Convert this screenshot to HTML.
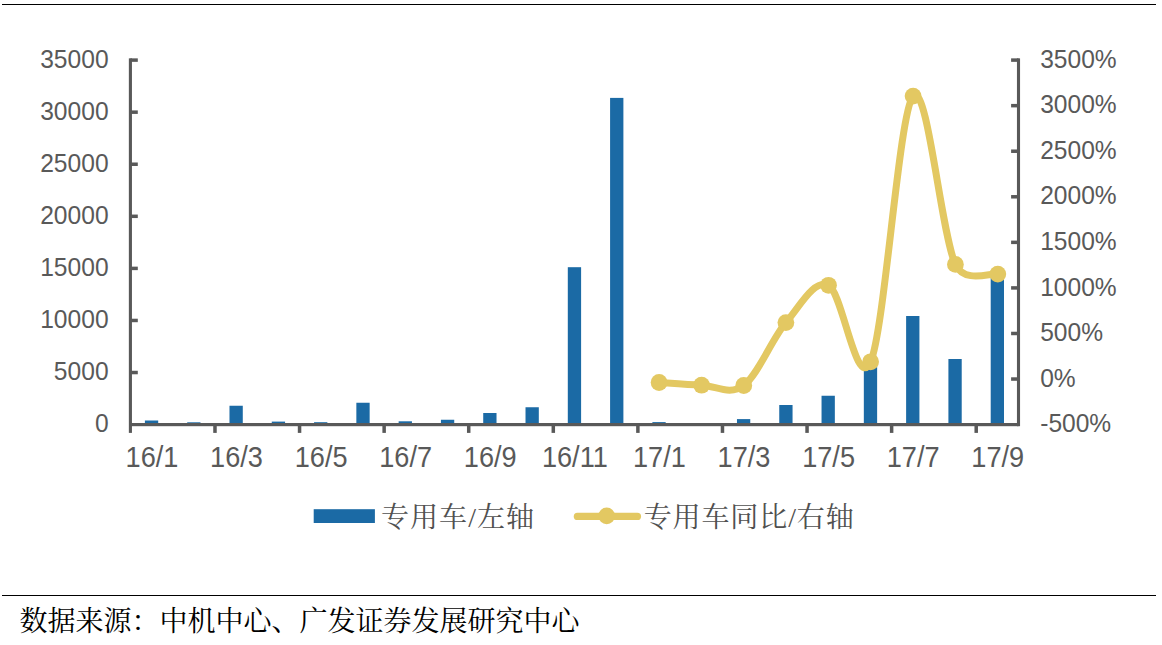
<!DOCTYPE html>
<html lang="zh"><head><meta charset="utf-8"><title>chart</title>
<style>html,body{margin:0;padding:0;background:#fff;overflow:hidden}svg{display:block}body{font-family:"Liberation Sans",sans-serif}</style></head>
<body>
<svg width="1162" height="645" viewBox="0 0 1162 645" role="img" aria-label="专用车/左轴 专用车同比/右轴 数据来源：中机中心、广发证券发展研究中心">
<rect width="1162" height="645" fill="#fff"/>
<rect x="2" y="4" width="1154" height="1" fill="#000"/>
<rect x="2" y="595" width="1154" height="1" fill="#000"/>
<g fill="#1B6AA5">
<rect x="144.90" y="420.50" width="13.3" height="4.10"/>
<rect x="187.19" y="422.30" width="13.3" height="2.30"/>
<rect x="229.48" y="405.75" width="13.3" height="18.85"/>
<rect x="271.77" y="421.60" width="13.3" height="3.00"/>
<rect x="314.06" y="422.20" width="13.3" height="2.40"/>
<rect x="356.35" y="402.75" width="13.3" height="21.85"/>
<rect x="398.64" y="421.30" width="13.3" height="3.30"/>
<rect x="440.93" y="419.75" width="13.3" height="4.85"/>
<rect x="483.22" y="413.00" width="13.3" height="11.60"/>
<rect x="525.51" y="407.25" width="13.3" height="17.35"/>
<rect x="567.80" y="267.20" width="13.3" height="157.40"/>
<rect x="610.09" y="97.90" width="13.3" height="326.70"/>
<rect x="652.38" y="422.10" width="13.3" height="2.50"/>
<rect x="736.96" y="419.10" width="13.3" height="5.50"/>
<rect x="779.25" y="405.00" width="13.3" height="19.60"/>
<rect x="821.54" y="395.75" width="13.3" height="28.85"/>
<rect x="863.83" y="362.00" width="13.3" height="62.60"/>
<rect x="906.12" y="316.00" width="13.3" height="108.60"/>
<rect x="948.41" y="359.00" width="13.3" height="65.60"/>
<rect x="990.70" y="276.00" width="13.3" height="148.60"/>
</g>
<g fill="#595959">
<rect x="128.85" y="58.35" width="3.1" height="374.55"/>
<rect x="1016.95" y="58.35" width="3.1" height="367.85"/>
<rect x="130.40" y="423.00" width="888.10" height="3.2"/>
<rect x="130.40" y="58.35" width="7.4" height="3.5"/>
<rect x="130.40" y="110.42" width="7.4" height="3.5"/>
<rect x="130.40" y="162.49" width="7.4" height="3.5"/>
<rect x="130.40" y="214.56" width="7.4" height="3.5"/>
<rect x="130.40" y="266.64" width="7.4" height="3.5"/>
<rect x="130.40" y="318.71" width="7.4" height="3.5"/>
<rect x="130.40" y="370.78" width="7.4" height="3.5"/>
<rect x="1011.10" y="58.35" width="7.4" height="3.5"/>
<rect x="1011.10" y="103.91" width="7.4" height="3.5"/>
<rect x="1011.10" y="149.47" width="7.4" height="3.5"/>
<rect x="1011.10" y="195.04" width="7.4" height="3.5"/>
<rect x="1011.10" y="240.60" width="7.4" height="3.5"/>
<rect x="1011.10" y="286.16" width="7.4" height="3.5"/>
<rect x="1011.10" y="331.73" width="7.4" height="3.5"/>
<rect x="1011.10" y="377.29" width="7.4" height="3.5"/>
<rect x="213.23" y="424.60" width="3.5" height="8.3"/>
<rect x="297.81" y="424.60" width="3.5" height="8.3"/>
<rect x="382.39" y="424.60" width="3.5" height="8.3"/>
<rect x="466.97" y="424.60" width="3.5" height="8.3"/>
<rect x="551.55" y="424.60" width="3.5" height="8.3"/>
<rect x="636.14" y="424.60" width="3.5" height="8.3"/>
<rect x="720.72" y="424.60" width="3.5" height="8.3"/>
<rect x="805.30" y="424.60" width="3.5" height="8.3"/>
<rect x="889.88" y="424.60" width="3.5" height="8.3"/>
<rect x="974.46" y="424.60" width="3.5" height="8.3"/>
</g>
<path d="M659.10,382.50 C666.18,382.95 687.49,384.70 701.60,385.20 C715.71,385.70 729.70,395.93 743.75,385.50 C757.80,375.07 771.77,339.30 785.90,322.60 C800.02,305.90 814.38,278.77 828.50,285.30 C842.62,291.83 856.50,393.33 870.60,361.80 C884.70,330.27 898.97,112.33 913.10,96.10 C927.23,79.87 941.28,234.73 955.40,264.40 C964.74,284.04 990.73,272.48 997.80,274.10" fill="none" stroke="#E3C862" stroke-width="7" stroke-linecap="round" stroke-linejoin="round"/>
<g fill="#E3C862">
<circle cx="659.10" cy="382.50" r="8.4"/>
<circle cx="701.60" cy="385.20" r="8.4"/>
<circle cx="743.75" cy="385.50" r="8.4"/>
<circle cx="785.90" cy="322.60" r="8.4"/>
<circle cx="828.50" cy="285.30" r="8.4"/>
<circle cx="870.60" cy="361.80" r="8.4"/>
<circle cx="913.10" cy="96.10" r="8.4"/>
<circle cx="955.40" cy="264.40" r="8.4"/>
<circle cx="997.80" cy="274.10" r="8.4"/>
</g>
<g font-family="'Liberation Sans', sans-serif" fill="#595959">
<g font-size="24" text-anchor="end">
<text transform="translate(108.6,67.70) scale(1.026,1.062)">35000</text>
<text transform="translate(108.6,119.77) scale(1.026,1.062)">30000</text>
<text transform="translate(108.6,171.84) scale(1.026,1.062)">25000</text>
<text transform="translate(108.6,223.91) scale(1.026,1.062)">20000</text>
<text transform="translate(108.6,275.99) scale(1.026,1.062)">15000</text>
<text transform="translate(108.6,328.06) scale(1.026,1.062)">10000</text>
<text transform="translate(108.6,380.13) scale(1.026,1.062)">5000</text>
<text transform="translate(108.6,432.20) scale(1.026,1.062)">0</text>
</g>
<g font-size="24" text-anchor="start">
<text transform="translate(1040.2,67.70) scale(1.024,1.062)">3500%</text>
<text transform="translate(1040.2,113.26) scale(1.024,1.062)">3000%</text>
<text transform="translate(1040.2,158.82) scale(1.024,1.062)">2500%</text>
<text transform="translate(1040.2,204.39) scale(1.024,1.062)">2000%</text>
<text transform="translate(1040.2,249.95) scale(1.024,1.062)">1500%</text>
<text transform="translate(1040.2,295.51) scale(1.024,1.062)">1000%</text>
<text transform="translate(1040.2,341.08) scale(1.024,1.062)">500%</text>
<text transform="translate(1040.2,386.64) scale(1.024,1.062)">0%</text>
<text transform="translate(1040.2,432.20) scale(1.024,1.062)">-500%</text>
</g>
<g font-size="26.67" text-anchor="middle">
<text transform="translate(151.95,466.55) scale(1.018,1.095)">16/1</text>
<text transform="translate(236.53,466.55) scale(1.018,1.095)">16/3</text>
<text transform="translate(321.11,466.55) scale(1.018,1.095)">16/5</text>
<text transform="translate(405.69,466.55) scale(1.018,1.095)">16/7</text>
<text transform="translate(490.27,466.55) scale(1.018,1.095)">16/9</text>
<text transform="translate(574.85,466.55) scale(1.018,1.095)">16/11</text>
<text transform="translate(659.43,466.55) scale(1.018,1.095)">17/1</text>
<text transform="translate(744.01,466.55) scale(1.018,1.095)">17/3</text>
<text transform="translate(828.59,466.55) scale(1.018,1.095)">17/5</text>
<text transform="translate(913.17,466.55) scale(1.018,1.095)">17/7</text>
<text transform="translate(997.75,466.55) scale(1.018,1.095)">17/9</text>
</g>
</g>
<rect x="313.7" y="509.2" width="61.2" height="13.8" fill="#1B6AA5"/>
<path d="M577.4,516.4 H637.4" stroke="#E3C862" stroke-width="7.3" stroke-linecap="round" fill="none"/>
<circle cx="606.7" cy="515.9" r="8.3" fill="#E3C862"/>
<g font-family="'Liberation Serif', 'Noto Serif CJK SC', serif" font-size="28" stroke="none">
<text x="381" y="526.5" fill="#505050" textLength="153" lengthAdjust="spacing">专用车/左轴</text>
<text x="643.7" y="526.5" fill="#505050" textLength="210" lengthAdjust="spacing">专用车同比/右轴</text>
<text x="19.4" y="630.7" fill="#000" textLength="560" lengthAdjust="spacing">数据来源：中机中心、广发证券发展研究中心</text>
</g>
</svg>
</body></html>
